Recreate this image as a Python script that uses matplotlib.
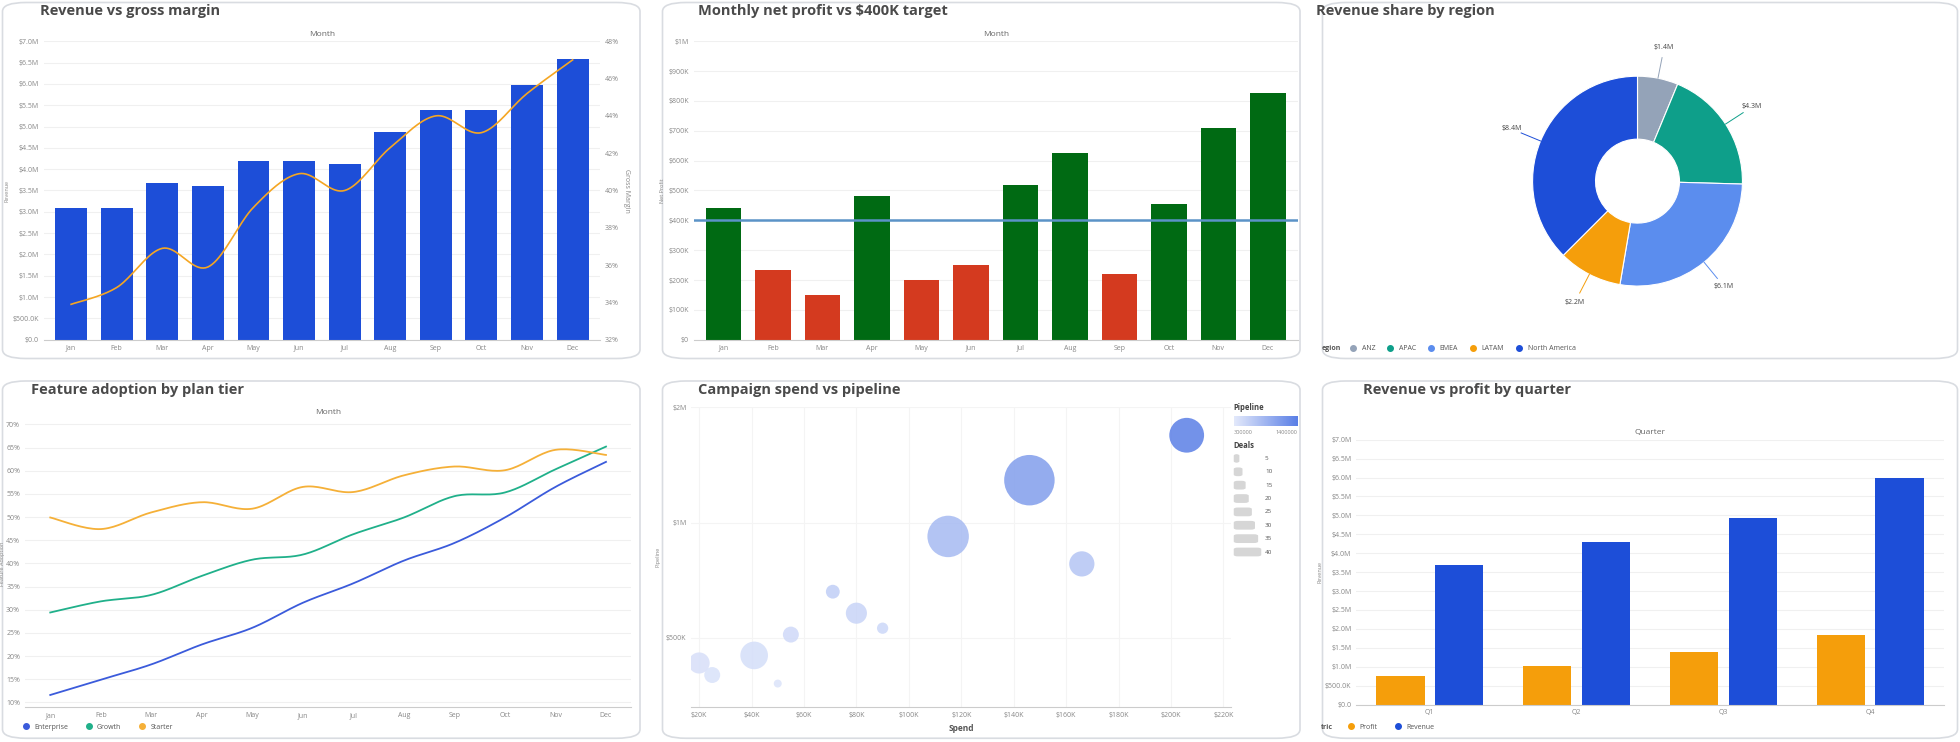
import matplotlib.pyplot as plt
import numpy as np
from matplotlib.patches import FancyBboxPatch
from matplotlib.ticker import FuncFormatter, FixedLocator
from matplotlib.lines import Line2D
from matplotlib.colors import LinearSegmentedColormap

plt.rcParams['font.family'] = ['Open Sans', 'DejaVu Sans']

months = ['Jan', 'Feb', 'Mar', 'Apr', 'May', 'Jun', 'Jul', 'Aug', 'Sep', 'Oct', 'Nov', 'Dec']
revenue_m = [3.1, 3.1, 3.68, 3.6, 4.2, 4.2, 4.12, 4.88, 5.38, 5.38, 5.97, 6.59]
margin_pct = [33.9, 34.8, 36.9, 35.9, 39.1, 40.9, 40.0, 42.3, 44.0, 43.1, 45.2, 47.0]

net_profit_k = [441, 235, 150, 480, 200, 250, 520, 625, 220, 455, 710, 825]
target_k = 400

regions = ['ANZ', 'APAC', 'EMEA', 'LATAM', 'North America']
region_rev = [1.4, 4.3, 6.1, 2.2, 8.4]
region_colors = ['#94a3b8', '#0e9f8a', '#5b8dee', '#f59e0b', '#1d4ed8']

enterprise = [11.6, 14.9, 18.2, 22.5, 26.1, 31.5, 35.7, 40.6, 44.4, 49.9, 56.5, 61.9]
growth = [29.4, 31.8, 33.2, 37.3, 40.8, 41.9, 46.3, 49.9, 54.5, 55.3, 60.3, 65.2]
starter = [49.9, 47.4, 51.0, 53.2, 51.8, 56.5, 55.4, 59.0, 60.9, 60.1, 64.5, 63.4]

spend_k = [206, 146, 115, 166, 71, 80, 55, 90, 41, 20, 25, 50]
pipeline = [1690000, 1290000, 920000, 780000, 660000, 580000, 510000, 530000, 450000, 430000, 400000, 380000]
deals = [19, 40, 27, 10, 3, 7, 4, 2, 12, 7, 4, 1]

quarters = ['Q1', 'Q2', 'Q3', 'Q4']
q_profit = [0.76, 1.03, 1.4, 1.83]
q_revenue = [3.69, 4.29, 4.92, 5.98]

W, H = 1568, 594
fig = plt.figure(figsize=(19.6, 7.42), dpi=100)
BLUE = '#1d4ed8'
TXT = '#888888'
bubble_cmap = LinearSegmentedColormap.from_list('bub', ['#e3e9fb', '#5a7fe6'])


def smooth(xv, yv, n=20):
    # Catmull-Rom through the points
    p = np.column_stack([xv, yv]).astype(float)
    p = np.vstack([p[0], p, p[-1]])
    out = []
    t = np.linspace(0, 1, n, endpoint=False)[:, None]
    for i in range(1, len(p) - 2):
        p0, p1, p2, p3 = p[i - 1], p[i], p[i + 1], p[i + 2]
        seg = 0.5 * ((2 * p1) + (-p0 + p2) * t + (2 * p0 - 5 * p1 + 4 * p2 - p3) * t ** 2
                     + (-p0 + 3 * p1 - 3 * p2 + p3) * t ** 3)
        out.append(seg)
    out.append(p[-2][None, :])
    out = np.vstack(out)
    return out[:, 0], out[:, 1]


def ax_px(l, t, r, b):
    return fig.add_axes([l / W, 1 - b / H, (r - l) / W, (b - t) / H])


def panel(l, t, r, b, title, tx):
    p = FancyBboxPatch((l / W, 1 - b / H), (r - l) / W, (b - t) / H,
                       boxstyle='round,pad=0,rounding_size=0.012', transform=fig.transFigure,
                       fc='white', ec='#d9dce1', lw=1.2, zorder=0)
    fig.add_artist(p)
    fig.text(tx / W, 1 - (t + 7) / H, title, fontsize=10.5, fontweight='bold', color='#4a4a4a', va='center')


def style(ax, grid_y=True):
    for s in ax.spines.values():
        s.set_visible(False)
    ax.spines['bottom'].set_visible(True)
    ax.spines['bottom'].set_color('#cccccc')
    ax.tick_params(labelsize=5, colors=TXT, length=0)
    if grid_y:
        ax.grid(axis='y', color='#f0f0f0', lw=0.8)
    ax.set_axisbelow(True)
    ax.patch.set_alpha(0)


def money_fmt(v, p):
    if v == 0:
        return '$0.0'
    if v == 0.5:
        return '$500.0K'
    return f'${v:.1f}M'


panel(2, 2, 512, 287, 'Revenue vs gross margin', 32)
panel(530, 2, 1040, 287, 'Monthly net profit vs $400K target', 558)
panel(1058, 2, 1566, 287, 'Revenue share by region', 1053)
panel(2, 305, 512, 591, 'Feature adoption by plan tier', 25)
panel(530, 305, 1040, 591, 'Campaign spend vs pipeline', 558)
panel(1058, 305, 1566, 591, 'Revenue vs profit by quarter', 1090)

x = np.arange(12)

# 1 revenue vs margin
ax = ax_px(35, 33, 480, 272)
ax.bar(x, revenue_m, width=0.7, color=BLUE)
ax.set_ylim(0, 7)
ax.set_yticks(np.arange(0, 7.01, 0.5))
ax.yaxis.set_major_formatter(FuncFormatter(money_fmt))
ax.set_xticks(x, months)
ax.set_xlim(-0.6, 11.6)
ax.set_ylabel('Revenue', fontsize=4, color=TXT, labelpad=2)
ax.set_title('Month', fontsize=6, color='#666666', pad=4)
style(ax)
ax2 = ax.twinx()
ax2.plot(*smooth(x, margin_pct), color='#f5a623', lw=1.2)
ax2.set_ylim(32, 48)
ax2.set_yticks(np.arange(32, 48.1, 2))
ax2.yaxis.set_major_formatter(FuncFormatter(lambda v, p: f'{v:.0f}%'))
ax2.set_ylabel('Gross Margin', fontsize=5, color=TXT, rotation=270, labelpad=8)
for s in ax2.spines.values():
    s.set_visible(False)
ax2.tick_params(labelsize=5, colors=TXT, length=0)

# 2 net profit
ax = ax_px(555, 33, 1038, 272)
cols = ['#006a13' if v >= target_k else '#d43a1f' for v in net_profit_k]
ax.bar(x, net_profit_k, width=0.72, color=cols)
ax.axhline(target_k, color='#5b93c7', lw=1.8)
ax.set_ylim(0, 1000)
ax.set_yticks(np.arange(0, 1001, 100))
ax.yaxis.set_major_formatter(FuncFormatter(lambda v, p: '$0' if v == 0 else ('$1M' if v == 1000 else f'${v:.0f}K')))
ax.set_xticks(x, months)
ax.set_xlim(-0.6, 11.6)
ax.set_ylabel('Net Profit', fontsize=4, color=TXT, labelpad=2)
ax.set_title('Month', fontsize=6, color='#666666', pad=4)
style(ax)

# 3 donut
ax = ax_px(1226, 61, 1394, 229)
wedges, _ = ax.pie(region_rev, colors=region_colors, startangle=90, counterclock=False, radius=1,
                   wedgeprops=dict(width=0.6, edgecolor='white', lw=0.8))
ax.set_xlim(-1, 1)
ax.set_ylim(-1, 1)
for w, v in zip(wedges, region_rev):
    ang = np.deg2rad((w.theta1 + w.theta2) / 2)
    x0, y0 = np.cos(ang), np.sin(ang)
    ax.plot([x0 * 1.0, x0 * 1.2], [y0 * 1.0, y0 * 1.2], color=w.get_facecolor(), lw=0.7, clip_on=False)
    ax.text(x0 * 1.3, y0 * 1.3, f'${v}M', fontsize=5, color='#444444', ha='center', va='center')
handles = [Line2D([], [], marker='o', ls='', color=c, markersize=4) for c in region_colors]
fig.legend(handles, regions, loc='center left', bbox_to_anchor=(1072 / W, 1 - 279 / H), ncol=5,
           frameon=False, fontsize=5, labelcolor='#555555', handletextpad=0.2, columnspacing=1.2)
fig.text(1057 / W, 1 - 279 / H, 'egion', fontsize=5, color='#555555', va='center', fontweight='bold')

# 4 adoption
ax = ax_px(20, 336, 505, 566)
for ys, c in [(enterprise, '#3b5bdb'), (growth, '#20b08a'), (starter, '#f5b038')]:
    ax.plot(*smooth(x, ys), color=c, lw=1.3)
ax.set_ylim(9, 71)
ax.set_yticks(np.arange(10, 71, 5))
ax.yaxis.set_major_formatter(FuncFormatter(lambda v, p: f'{v:.0f}%'))
ax.set_xticks(x, months)
ax.set_xlim(-0.5, 11.5)
ax.set_ylabel('Feature Adoption', fontsize=4, color=TXT, labelpad=1)
ax.set_title('Month', fontsize=6, color='#666666', pad=4)
style(ax)
handles = [Line2D([], [], marker='o', ls='', color=c, markersize=4) for c in ['#3b5bdb', '#20b08a', '#f5b038']]
fig.legend(handles, ['Enterprise', 'Growth', 'Starter'], loc='center left', bbox_to_anchor=(10 / W, 1 - 582 / H),
           ncol=3, frameon=False, fontsize=5, labelcolor='#555555', handletextpad=0.2)

# 5 bubble
ax = ax_px(553, 326, 985, 566)
ax.scatter(spend_k, pipeline, s=np.array(deals) * 33, c=pipeline, cmap=bubble_cmap, vmin=300000, vmax=1700000,
           alpha=0.85, edgecolors='none')
ax.set_yscale('log')
ax.set_ylim(330000, 2000000)
ax.yaxis.set_major_locator(FixedLocator([500000, 1000000, 2000000]))
ax.yaxis.set_minor_locator(FixedLocator([]))
ax.yaxis.set_major_formatter(FuncFormatter(lambda v, p: '$500K' if v < 900000 else f'${v / 1e6:.0f}M'))
ax.set_xlim(17, 223)
ax.set_xticks(np.arange(20, 221, 20))
ax.xaxis.set_major_formatter(FuncFormatter(lambda v, p: f'${v:.0f}K'))
ax.set_xlabel('Spend', fontsize=6, color='#555555', fontweight='bold')
ax.set_ylabel('Pipeline', fontsize=4, color=TXT)
style(ax)
ax.grid(axis='x', color='#f4f4f4', lw=0.8)
ax.grid(axis='y', color='#f4f4f4', lw=0.8)
fig.text(987 / W, 1 - 326 / H, 'Pipeline', fontsize=5.5, fontweight='bold', color='#444444', va='center')
cax = ax_px(987, 333, 1038, 341)
cax.imshow(np.linspace(0, 1, 100)[None, :], aspect='auto', cmap=bubble_cmap)
cax.set_xticks([])
cax.set_yticks([])
for s in cax.spines.values():
    s.set_visible(False)
fig.text(987 / W, 1 - 346 / H, '300000', fontsize=4, color=TXT, va='center')
fig.text(1038 / W, 1 - 346 / H, '1400000', fontsize=4, color=TXT, va='center', ha='right')
fig.text(987 / W, 1 - 357 / H, 'Deals', fontsize=5.5, fontweight='bold', color='#444444', va='center')
for i, d in enumerate([5, 10, 15, 20, 25, 30, 35, 40]):
    yy = 367 + i * 10.7
    fig.text(1012 / W, 1 - yy / H, str(d), fontsize=4.5, color='#555555', va='center')
    wpx = 2 + d * 0.5
    fig.add_artist(FancyBboxPatch((987 / W, 1 - (yy + 3.5) / H), wpx / W, 7 / H,
                                  boxstyle='round,pad=0,rounding_size=0.002', transform=fig.transFigure,
                                  fc='#d6d6d6', ec='none'))

# 6 quarterly
ax = ax_px(1085, 352, 1555, 564)
q = np.arange(4)
ax.bar(q - 0.2, q_profit, width=0.33, color='#f59e0b')
ax.bar(q + 0.2, q_revenue, width=0.33, color=BLUE)
ax.set_ylim(0, 7)
ax.set_yticks(np.arange(0, 7.01, 0.5))
ax.yaxis.set_major_formatter(FuncFormatter(money_fmt))
ax.set_xticks(q, quarters)
ax.set_xlim(-0.5, 3.5)
ax.set_ylabel('Revenue', fontsize=4, color=TXT, labelpad=2)
ax.set_title('Quarter', fontsize=6, color='#666666', pad=4)
style(ax)
handles = [Line2D([], [], marker='o', ls='', color=c, markersize=4) for c in ['#f59e0b', BLUE]]
fig.legend(handles, ['Profit', 'Revenue'], loc='center left', bbox_to_anchor=(1070 / W, 1 - 582 / H),
           ncol=2, frameon=False, fontsize=5, labelcolor='#555555', handletextpad=0.2)
fig.text(1057 / W, 1 - 582 / H, 'tric', fontsize=5, color='#555555', va='center', fontweight='bold')

fig.savefig('out.png', dpi=100, facecolor='white')
